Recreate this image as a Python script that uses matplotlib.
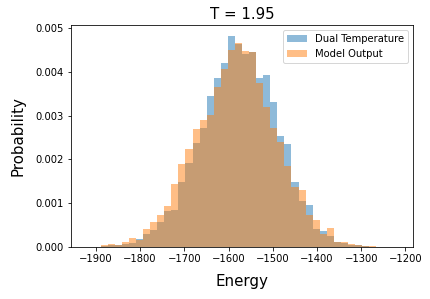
import numpy as np
import matplotlib
matplotlib.use("Agg")
import matplotlib.pyplot as plt

# Energy bin edges (44 bins)
bin_lo, bin_hi, n_bins = -1921.0, -1218.0, 44

# Probability density per bin
dual_temperature = [
    0.0, 0.0, 0.00002, 0.00005, 0.00005, 0.00007, 0.00010, 0.00018,
    0.00029, 0.00039, 0.00057, 0.00083, 0.00085, 0.00149, 0.00192, 0.00237,
    0.00271, 0.00346, 0.00386, 0.00420, 0.00483, 0.00464, 0.00442, 0.00446,
    0.00387, 0.00394, 0.00332, 0.00253, 0.00236, 0.00148, 0.00104, 0.00095,
    0.00040, 0.00037, 0.00024, 0.00011, 0.00010, 0.00005, 0.00004, 0.00003,
    0.00001, 0.00001, 0.0, 0.0,
]
model_output = [
    0.0, 0.0, 0.00005, 0.00007, 0.00004, 0.00011, 0.00020, 0.00017,
    0.00041, 0.00058, 0.00073, 0.00093, 0.00143, 0.00189, 0.00225, 0.00269,
    0.00291, 0.00301, 0.00365, 0.00407, 0.00451, 0.00466, 0.00447, 0.00445,
    0.00375, 0.00320, 0.00272, 0.00241, 0.00184, 0.00138, 0.00130, 0.00073,
    0.00062, 0.00030, 0.00043, 0.00011, 0.00011, 0.00007, 0.00005, 0.00002,
    0.00002, 0.00001, 0.0, 0.0,
]

edges = np.linspace(bin_lo, bin_hi, n_bins + 1)
centers = 0.5 * (edges[:-1] + edges[1:])

fig = plt.figure(figsize=(430 / 72, 299 / 72), dpi=72)
ax = fig.add_axes([71 / 430, 1 - 247 / 299, (413 - 71) / 430, (247 - 25) / 299])

ax.hist(centers, bins=edges, weights=dual_temperature, alpha=0.5,
        color="#1f77b4", label="Dual Temperature")
ax.hist(centers, bins=edges, weights=model_output, alpha=0.5,
        color="#ff7f0e", label="Model Output")

ax.set_xticks([-1900, -1800, -1700, -1600, -1500, -1400, -1300, -1200])
ax.set_yticks([0.0, 0.001, 0.002, 0.003, 0.004, 0.005])
ax.yaxis.set_major_formatter(matplotlib.ticker.FormatStrFormatter("%.3f"))
ax.tick_params(labelsize=10)
ax.set_title("T = 1.95", fontsize=15)
ax.set_xlabel("Energy", fontsize=15, labelpad=10)
ax.set_ylabel("Probability", fontsize=15, labelpad=10)
ax.legend(fontsize=10, loc="upper right")

fig.savefig("out.png", dpi=72)
